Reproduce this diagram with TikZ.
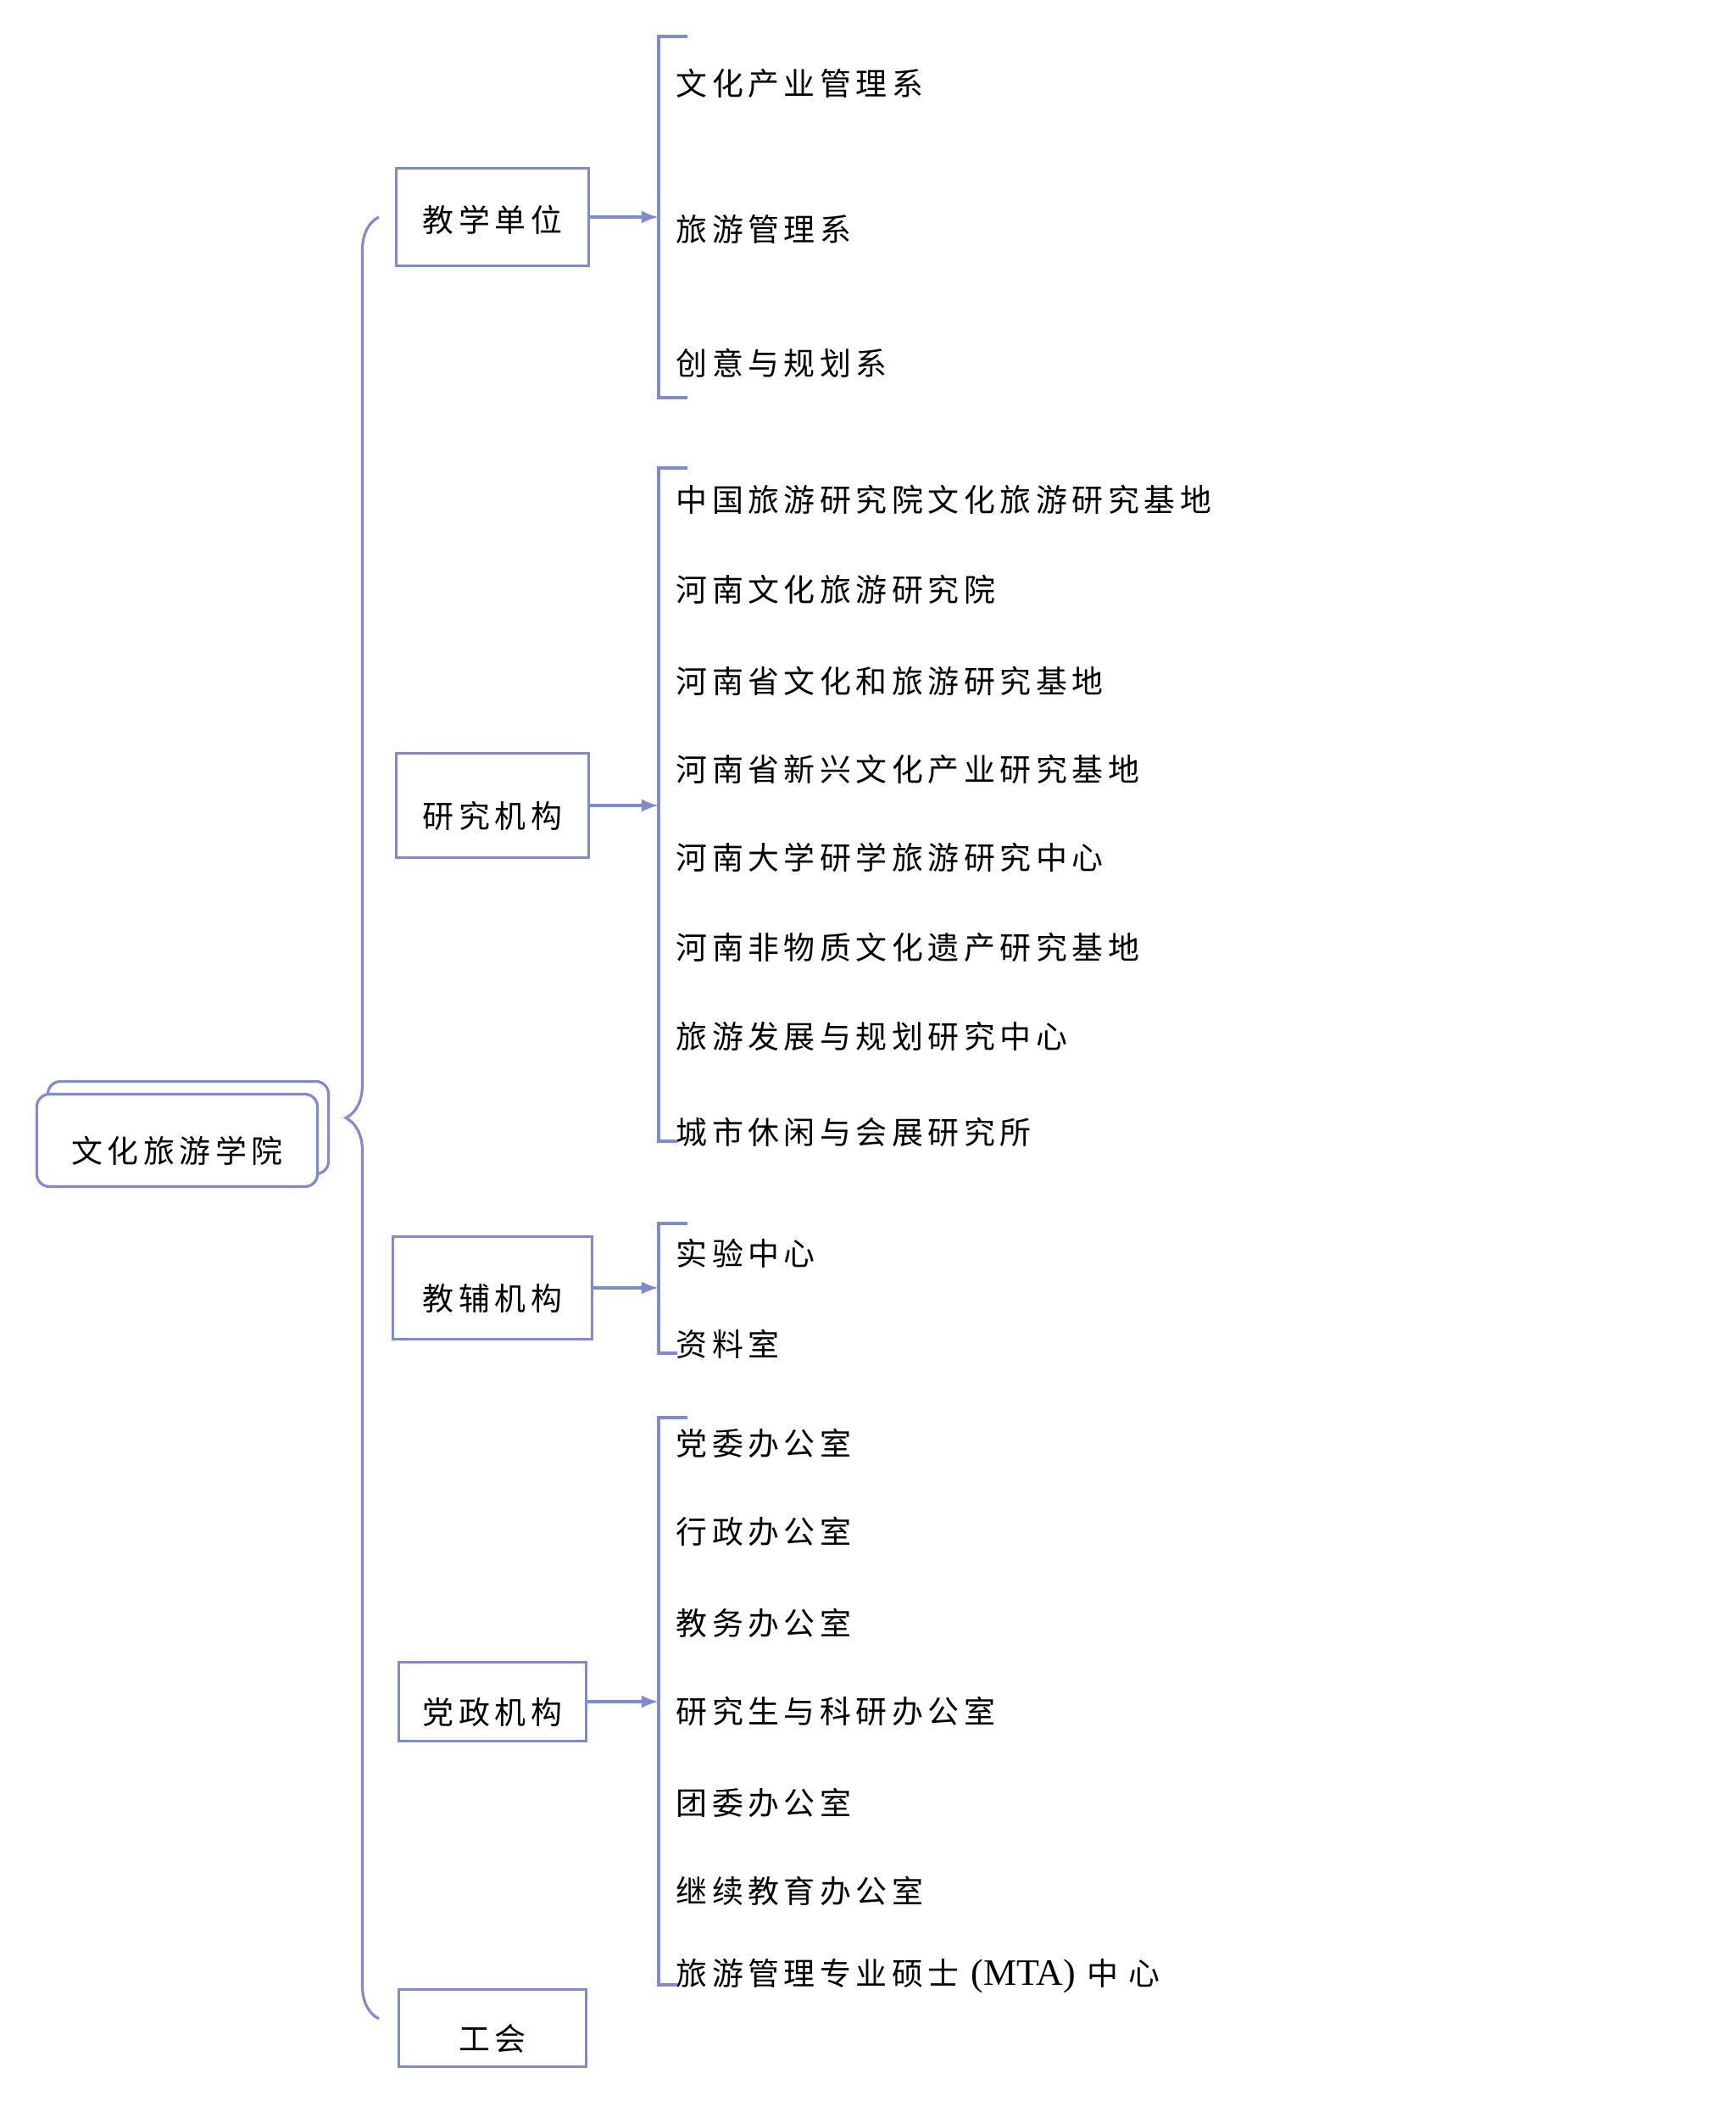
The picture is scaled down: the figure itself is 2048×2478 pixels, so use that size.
\documentclass[tikz,border=0pt]{standalone}
\usepackage{fontspec}
\setmainfont{Noto Sans CJK SC}[LetterSpace=15]
\newfontfamily\latinfont{Liberation Serif}
\usetikzlibrary{shadows}
\usetikzlibrary{arrows.meta}
\usetikzlibrary{decorations.pathreplacing}
\definecolor{lineblue}{RGB}{128,138,212}

\begin{document}
\begin{tikzpicture}
[x=0.01cm,y=-0.01cm,line width=0.9pt,
every node/.style={font=\fontsize{10.5}{12}\selectfont},
unit/.style={rectangle,draw=lineblue,fill=white,inner sep=0pt,text height=15pt,text depth=0pt},
leaf/.style={anchor=west,inner sep=0pt},
link/.style={draw=lineblue,-{Latex[length=0.2cm,width=0.15cm]}},
bracket/.style={draw=lineblue}]
\useasboundingbox (0,0) rectangle (2048,2478);
%root
\node (WenLvXueYuan) at (209,1345) [unit,rounded corners=0.15cm,minimum width=3.31cm,minimum height=1.09cm,
  copy shadow={shadow xshift=0.13cm,shadow yshift=0.15cm,draw=lineblue,fill=white}] {文化旅游学院};
%first level
\node (JiaoXue) at (581,256) [unit,text height=10pt,minimum width=2.27cm,minimum height=1.15cm] {教学单位};
\node (YanJiu) at (581,950) [unit,minimum width=2.27cm,minimum height=1.23cm] {研究机构};
\node (JiaoFu) at (581,1519) [unit,minimum width=2.35cm,minimum height=1.21cm] {教辅机构};
\node (DangZheng) at (581,2007) [unit,minimum width=2.21cm,minimum height=0.93cm] {党政机构};
\node (GongHui) at (581,2392) [unit,minimum width=2.21cm,minimum height=0.91cm] {工会};
\coordinate (BraceTop) at (447,256);
\coordinate (BraceBot) at (447,2381);
\draw[bracket,decorate,decoration={brace,amplitude=0.39cm}] (BraceBot) -- (BraceTop);
%teaching
\node (WenHuaChanYe) at (796,98) [leaf] {文化产业管理系};
\node (LvYouGuanLi) at (796,270) [leaf] {旅游管理系};
\node (ChuangYi) at (796,428) [leaf] {创意与规划系};
\coordinate (BrA) at (777,43);
\coordinate (BrAend) at (777,469);
\draw[bracket] (BrA) ++(34,0) -- (BrA) -- (BrAend) -- ++(34,0);
\draw[link] (JiaoXue) -- (JiaoXue -| BrA);
%research
\node (ZhongLvYan) at (796,589) [leaf] {中国旅游研究院文化旅游研究基地};
\node (HeNanWenLv) at (796,695) [leaf] {河南文化旅游研究院};
\node (HeNanShengWenLv) at (796,803) [leaf] {河南省文化和旅游研究基地};
\node (XinXing) at (796,907) [leaf] {河南省新兴文化产业研究基地};
\node (YanXue) at (796,1011) [leaf] {河南大学研学旅游研究中心};
\node (FeiYi) at (796,1117) [leaf] {河南非物质文化遗产研究基地};
\node (FaZhan) at (796,1222) [leaf] {旅游发展与规划研究中心};
\node (XiuXian) at (796,1335) [leaf] {城市休闲与会展研究所};
\coordinate (BrB) at (777,552);
\coordinate (BrBend) at (777,1346);
\draw[bracket] (BrB) ++(34,0) -- (BrB) -- (BrBend) -- ++(22,0);
\draw[link] (YanJiu) -- (YanJiu -| BrB);
%support
\node (ShiYan) at (796,1478) [leaf] {实验中心};
\node (ZiLiao) at (796,1585) [leaf] {资料室};
\coordinate (BrC) at (777,1443);
\coordinate (BrCend) at (777,1596);
\draw[bracket] (BrC) ++(34,0) -- (BrC) -- (BrCend) -- ++(22,0);
\draw[link] (JiaoFu) -- (JiaoFu -| BrC);
%offices
\node (DangWei) at (796,1702) [leaf] {党委办公室};
\node (XingZheng) at (796,1806) [leaf] {行政办公室};
\node (JiaoWu) at (796,1914) [leaf] {教务办公室};
\node (YanJiuSheng) at (796,2018) [leaf] {研究生与科研办公室};
\node (TuanWei) at (796,2126) [leaf] {团委办公室};
\node (JiXu) at (796,2230) [leaf] {继续教育办公室};
\node (MTA) at (796,2331) [leaf] {旅游管理专业硕士 {\latinfont\fontsize{12.5}{14}\selectfont (MTA)} 中\hspace{0.12cm}心};
\coordinate (BrD) at (777,1672);
\coordinate (BrDend) at (777,2341);
\draw[bracket] (BrD) ++(34,0) -- (BrD) -- (BrDend) -- ++(22,0);
\draw[link] (DangZheng) -- (DangZheng -| BrD);
\end{tikzpicture}
\end{document}
